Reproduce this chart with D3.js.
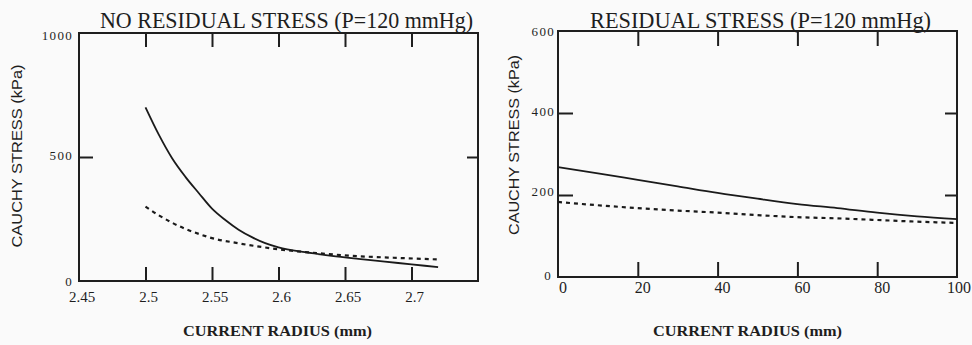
<!DOCTYPE html>
<html><head><meta charset="utf-8">
<script src="https://cdn.jsdelivr.net/npm/d3@7"></script>
<style>
html,body{margin:0;padding:0;background:#fafafa;}
svg{display:block;}
text{fill:#1e1e1e;}
</style></head>
<body>
<svg id="chart" width="972" height="345"></svg>
<script>
// ---- Left panel data: NO RESIDUAL STRESS ----
const leftTitle = "NO RESIDUAL STRESS (P=120 mmHg)";
const leftRadius = [2.50, 2.51, 2.52, 2.53, 2.54, 2.55, 2.56, 2.57, 2.58, 2.59, 2.60, 2.62, 2.64, 2.66, 2.68, 2.70, 2.72];
const leftSolid  = [700, 590, 495, 420, 355, 292, 246, 207, 177, 153, 136, 116, 101, 89, 78, 67, 56];
const leftDashRadius = [2.50, 2.51, 2.52, 2.53, 2.54, 2.55, 2.57, 2.60, 2.63, 2.66, 2.69, 2.72];
const leftDashed = [300, 265, 235, 210, 190, 173, 152, 128, 112, 100, 93, 87];
const leftXTicks = [2.45, 2.5, 2.55, 2.6, 2.65, 2.7];
const leftXTickLabels = ["2.45", "2.5", "2.55", "2.6", "2.65", "2.7"];
const leftYTicks = [0, 500, 1000];

// ---- Right panel data: RESIDUAL STRESS ----
const rightTitle = "RESIDUAL STRESS (P=120 mmHg)";
const rightRadius = [0, 10, 20, 30, 40, 50, 60, 70, 80, 90, 100];
const rightSolid  = [268, 253, 237, 221, 205, 191, 178, 168, 157, 148, 141];
const rightDashed = [183, 175, 168, 162, 157, 151, 146, 143, 139, 135, 132];
const rightXTicks = [0, 20, 40, 60, 80, 100];
const rightYTicks = [0, 200, 400, 600];

const xLabel = "CURRENT RADIUS (mm)";
const yLabel = "CAUCHY STRESS (kPa)";

const svg = d3.select("#chart");
const serif = "'Liberation Serif','Times New Roman',serif";

function panel(cfg) {
  const g = svg.append("g");
  const x = d3.scaleLinear().domain(cfg.xDomain).range([cfg.left, cfg.right]);
  const y = d3.scaleLinear().domain(cfg.yDomain).range([cfg.bottom, cfg.top]);

  // frame
  g.append("rect").attr("x", cfg.left).attr("y", cfg.top)
    .attr("width", cfg.right - cfg.left).attr("height", cfg.bottom - cfg.top)
    .attr("fill", "none").attr("stroke", "#1e1e1e").attr("stroke-width", 2);

  // inner ticks via axes (no labels)
  const tl = cfg.tickLen;
  g.append("g").attr("transform", `translate(0,${cfg.bottom})`)
    .call(d3.axisTop(x).tickValues(cfg.innerX).tickSize(tl).tickFormat(""))
    .call(a => a.select(".domain").remove());
  g.append("g").attr("transform", `translate(0,${cfg.top})`)
    .call(d3.axisBottom(x).tickValues(cfg.innerX).tickSize(tl).tickFormat(""))
    .call(a => a.select(".domain").remove());
  g.append("g").attr("transform", `translate(${cfg.left},0)`)
    .call(d3.axisRight(y).tickValues(cfg.innerY).tickSize(tl).tickFormat(""))
    .call(a => a.select(".domain").remove());
  g.append("g").attr("transform", `translate(${cfg.right},0)`)
    .call(d3.axisLeft(y).tickValues(cfg.innerY).tickSize(tl - 3).tickFormat(""))
    .call(a => a.select(".domain").remove());
  g.selectAll(".tick line").attr("stroke", "#1e1e1e").attr("stroke-width", 2);

  // x tick labels
  const last = cfg.xTicks.length - 1;
  g.append("g").selectAll("text").data(cfg.xTicks).join("text")
    .attr("x", (d, i) => (cfg.clipLast && i === last) ? 971 : x(d) + cfg.xLabelShift)
    .attr("y", cfg.bottom + cfg.xLabelDy)
    .attr("text-anchor", (d, i) => (cfg.clipLast && i === last) ? "end" : "middle")
    .attr("font-family", serif).attr("font-size", cfg.tickFont)
    .text((d, i) => cfg.xTickLabels ? cfg.xTickLabels[i] : d);

  // y tick labels
  g.append("g").selectAll("text").data(cfg.yTicks).join("text")
    .attr("x", (d) => cfg.left - cfg.yLabelGap(d))
    .attr("y", (d) => y(d) + cfg.yLabelDy(d))
    .attr("text-anchor", "end")
    .attr("dominant-baseline", "middle")
    .attr("font-family", serif).attr("font-size", 13)
    .attr("letter-spacing", "1.3")
    .text((d) => d);

  // lines
  const line = d3.line().x(d => x(d[0])).y(d => y(d[1])).curve(d3.curveMonotoneX);
  g.append("path").datum(cfg.solidX.map((r, i) => [r, cfg.solid[i]]))
    .attr("d", line).attr("fill", "none").attr("stroke", "#1a1a1a").attr("stroke-width", 1.8);
  g.append("path").datum(cfg.dashX.map((r, i) => [r, cfg.dashed[i]]))
    .attr("d", line).attr("fill", "none").attr("stroke", "#1a1a1a")
    .attr("stroke-width", 2.2).attr("stroke-dasharray", "4,4");

  // title
  g.append("text").attr("x", cfg.titleX).attr("y", 28)
    .attr("font-family", serif).attr("font-size", 23)
    .attr("textLength", cfg.titleW).attr("lengthAdjust", "spacingAndGlyphs")
    .text(cfg.title);

  // x axis label
  g.append("text").attr("x", cfg.xLabX).attr("y", 336)
    .attr("font-family", serif).attr("font-size", 15).attr("font-weight", "bold")
    .attr("textLength", 189).attr("lengthAdjust", "spacingAndGlyphs")
    .text(xLabel);

  // y axis label
  g.append("text")
    .attr("transform", `translate(${cfg.yLabX},${cfg.yLabY}) rotate(-90)`)
    .attr("text-anchor", "middle")
    .attr("font-family", "'Liberation Sans',sans-serif").attr("font-size", 14)
    .attr("textLength", cfg.yLabW).attr("lengthAdjust", "spacingAndGlyphs")
    .text(yLabel);
}

panel({
  xDomain: [2.45, 2.75], yDomain: [0, 1000],
  left: 79, right: 478, top: 33, bottom: 281, tickLen: 14,
  innerX: [2.5, 2.55, 2.6, 2.65, 2.7], innerY: [500],
  xTicks: leftXTicks, xTickLabels: leftXTickLabels, yTicks: leftYTicks,
  xLabelShift: 3, xLabelDy: 21, tickFont: 15, clipLast: false,
  yLabelGap: d => 6,
  yLabelDy: d => d === 0 ? 2 : (d === 1000 ? 4 : 0),
  solidX: leftRadius, solid: leftSolid, dashX: leftDashRadius, dashed: leftDashed,
  title: leftTitle, titleX: 100, titleW: 373,
  xLabX: 183, yLabX: 22, yLabY: 156, yLabW: 183
});

panel({
  xDomain: [0, 100], yDomain: [0, 600],
  left: 558, right: 957, top: 31, bottom: 277, tickLen: 15,
  innerX: [20, 40, 60, 80], innerY: [200, 400],
  xTicks: rightXTicks, xTickLabels: null, yTicks: rightYTicks,
  xLabelShift: 5, xLabelDy: 16, tickFont: 16, clipLast: true,
  yLabelGap: d => d === 0 ? 6 : 3,
  yLabelDy: d => d === 600 ? 2 : (d === 200 ? -2 : 0),
  solidX: rightRadius, solid: rightSolid, dashX: rightRadius, dashed: rightDashed,
  title: rightTitle, titleX: 590, titleW: 341,
  xLabX: 653, yLabX: 519, yLabY: 145, yLabW: 180
});
</script>
</body></html>
